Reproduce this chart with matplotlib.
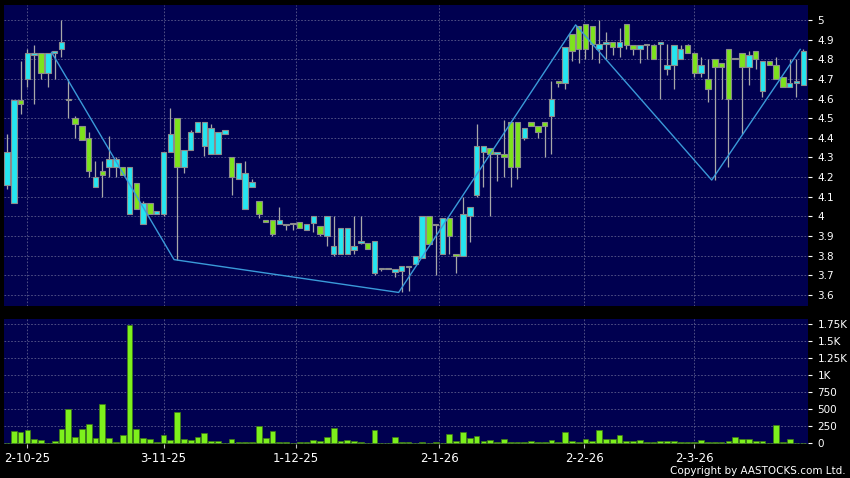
import matplotlib
matplotlib.use("Agg")
import matplotlib.pyplot as plt
import numpy as np

# daily OHLC, one entry per trading day (index 0..117)
opens = [4.16, 4.07, 4.59, 4.70, 4.82, 4.83, 4.73, 4.83, 4.85, 4.60,
         4.50, 4.46, 4.40, 4.15, 4.23, 4.25, 4.25, 4.25, 4.01, 4.17,
         3.96, 4.07, 4.01, 4.01, 4.33, 4.50, 4.25, 4.34, 4.43, 4.36,
         4.32, 4.32, 4.42, 4.30, 4.19, 4.04, 4.15, 4.08, 3.98, 3.98,
         3.96, 3.96, 3.96, 3.97, 3.93, 3.965, 3.95, 3.90, 3.81, 3.81,
         3.81, 3.83, 3.865, 3.865, 3.71, 3.73, 3.73, 3.715, 3.72, 3.74,
         3.76, 3.79, 4.00, 3.955, 3.81, 3.99, 3.81, 3.80, 4.00, 4.11,
         4.33, 4.35, 4.32, 4.32, 4.48, 4.48, 4.40, 4.48, 4.46, 4.48,
         4.51, 4.69, 4.68, 4.93, 4.97, 4.98, 4.97, 4.85, 4.88, 4.89,
         4.86, 4.98, 4.87, 4.85, 4.87, 4.87, 4.88, 4.75, 4.77, 4.80,
         4.87, 4.83, 4.73, 4.70, 4.80, 4.78, 4.85, 4.80, 4.83, 4.76,
         4.84, 4.64, 4.79, 4.77, 4.71, 4.66, 4.68, 4.67]
highs = [4.42, 4.59, 4.79, 4.85, 4.87, 4.83, 4.83, 4.84, 5.00, 4.70,
         4.51, 4.46, 4.43, 4.28, 4.28, 4.41, 4.30, 4.25, 4.25, 4.17,
         4.08, 4.07, 4.03, 4.33, 4.55, 4.50, 4.34, 4.44, 4.48, 4.48,
         4.47, 4.43, 4.44, 4.30, 4.27, 4.28, 4.19, 4.08, 3.98, 3.98,
         4.05, 3.96, 3.965, 3.97, 3.96, 4.00, 3.95, 4.00, 4.00, 3.94,
         3.94, 4.00, 4.00, 3.865, 3.875, 3.73, 3.73, 3.73, 3.75, 3.75,
         3.80, 4.00, 4.00, 3.96, 3.99, 3.99, 3.81, 4.10, 4.05, 4.47,
         4.36, 4.35, 4.32, 4.49, 4.48, 4.48, 4.45, 4.48, 4.46, 4.48,
         4.69, 4.69, 4.86, 4.93, 4.97, 4.98, 4.97, 5.00, 4.94, 4.89,
         4.96, 4.98, 4.87, 4.87, 4.87, 4.88, 4.88, 4.88, 4.87, 4.87,
         4.88, 4.83, 4.81, 4.80, 4.80, 4.78, 4.85, 4.80, 4.83, 4.84,
         4.84, 4.79, 4.79, 4.81, 4.71, 4.80, 4.80, 4.85]
lows = [4.14, 4.07, 4.52, 4.66, 4.57, 4.70, 4.66, 4.70, 4.81, 4.50,
        4.40, 4.39, 4.20, 4.15, 4.10, 4.20, 4.20, 4.21, 4.01, 4.04,
        3.96, 4.01, 4.01, 4.00, 4.33, 3.78, 4.22, 4.34, 4.43, 4.31,
        4.32, 4.32, 4.42, 4.11, 4.19, 4.04, 4.15, 3.99, 3.97, 3.90,
        3.96, 3.93, 3.93, 3.94, 3.93, 3.92, 3.90, 3.85, 3.80, 3.81,
        3.81, 3.81, 3.86, 3.835, 3.70, 3.72, 3.73, 3.69, 3.615, 3.62,
        3.76, 3.79, 3.86, 3.70, 3.81, 3.81, 3.71, 3.80, 3.87, 4.10,
        4.15, 4.00, 4.18, 4.20, 4.15, 4.19, 4.39, 4.46, 4.40, 4.30,
        4.32, 4.66, 4.65, 4.79, 4.78, 4.80, 4.80, 4.78, 4.80, 4.82,
        4.81, 4.85, 4.82, 4.78, 4.80, 4.80, 4.60, 4.72, 4.65, 4.80,
        4.83, 4.71, 4.71, 4.58, 4.185, 4.60, 4.25, 4.80, 4.42, 4.67,
        4.75, 4.61, 4.77, 4.70, 4.66, 4.66, 4.61, 4.67]
closes = [4.33, 4.59, 4.57, 4.83, 4.83, 4.73, 4.83, 4.84, 4.89, 4.59,
          4.47, 4.39, 4.23, 4.20, 4.21, 4.29, 4.29, 4.21, 4.25, 4.04,
          4.07, 4.01, 4.03, 4.33, 4.42, 4.25, 4.34, 4.43, 4.48, 4.48,
          4.45, 4.43, 4.44, 4.20, 4.27, 4.22, 4.175, 4.01, 3.97, 3.91,
          3.98, 3.955, 3.96, 3.94, 3.96, 4.00, 3.91, 4.00, 3.85, 3.94,
          3.94, 3.85, 3.865, 3.835, 3.875, 3.73, 3.73, 3.73, 3.75, 3.75,
          3.80, 4.00, 3.86, 3.96, 3.99, 3.90, 3.80, 4.01, 4.05, 4.36,
          4.36, 4.32, 4.32, 4.30, 4.25, 4.25, 4.45, 4.46, 4.43, 4.46,
          4.60, 4.68, 4.86, 4.84, 4.85, 4.85, 4.88, 4.88, 4.89, 4.86,
          4.89, 4.87, 4.85, 4.87, 4.87, 4.80, 4.88, 4.77, 4.87, 4.85,
          4.83, 4.73, 4.77, 4.65, 4.76, 4.76, 4.60, 4.80, 4.76, 4.82,
          4.80, 4.79, 4.77, 4.70, 4.66, 4.68, 4.68, 4.84]
volumes = [0, 176, 171, 191, 59, 49, 0, 34, 211, 500,
           93, 206, 279, 78, 573, 78, 25, 122, 1740, 216,
           78, 64, 25, 127, 49, 456, 64, 54, 93, 147,
           34, 29, 5, 64, 15, 15, 15, 255, 78, 181,
           20, 15, 0, 25, 15, 54, 39, 93, 225, 34,
           54, 34, 15, 0, 191, 3, 0, 88, 15, 15,
           0, 15, 0, 15, 0, 142, 34, 167, 78, 108,
           34, 49, 15, 59, 15, 15, 15, 34, 20, 20,
           44, 20, 162, 34, 20, 59, 34, 201, 64, 59,
           118, 34, 34, 49, 15, 15, 34, 34, 34, 15,
           15, 15, 49, 20, 20, 20, 34, 93, 69, 69,
           34, 34, 0, 265, 15, 69, 0, 5]

# zigzag turning points (day index, price)
zz_idx = [7, 25, 58, 84, 104, 117]
zz_price = [4.835, 3.78, 3.613, 4.975, 4.185, 4.85]

date_pos = [3, 23, 42.4, 63.5, 84.8, 101]
date_labels = ["2-10-25", "3-11-25", "1-12-25", "2-1-26", "2-2-26", "2-3-26"]

price_ticks = [3.6, 3.7, 3.8, 3.9, 4.0, 4.1, 4.2, 4.3, 4.4, 4.5, 4.6, 4.7, 4.8, 4.9, 5.0]
vol_ticks = [0, 250, 500, 750, 1000, 1250, 1500, 1750]
vol_labels = ["0", "250", "500", "750", "1K", "1.25K", "1.5K", "1.75K"]

NAVY = "#000050"
CYAN = "#25E6F0"
GREEN = "#7DE31C"
GRID = "#5c5c8c"

o = np.array(opens)
h = np.array(highs)
l = np.array(lows)
c = np.array(closes)
x = np.arange(len(o))

fig = plt.figure(figsize=(8.5, 4.78), dpi=100, facecolor="black")
W, H = 850, 478
ax = fig.add_axes([4 / W, 1 - 306 / H, 803.7 / W, 301 / H])
axv = fig.add_axes([4 / W, 1 - 444 / H, 803.7 / W, 125 / H], sharex=ax)

for a in (ax, axv):
    a.set_facecolor(NAVY)
    for s in a.spines.values():
        s.set_visible(False)
    a.grid(True, color=GRID, linestyle=(0, (2, 2)), linewidth=0.6)
    a.set_axisbelow(True)
    a.yaxis.tick_right()
    a.tick_params(axis="y", colors="white", labelcolor="white", length=3,
                  width=0.8, pad=4, labelsize=7.5)

# candles
up = c >= o
colors = np.where(up, CYAN, GREEN)
bottom = np.minimum(o, c)
height = np.maximum(np.abs(c - o), 0.008)
ax.vlines(x, l, h, color="#a8a8a8", linewidth=0.9, zorder=2)
ax.bar(x, height, bottom=bottom, width=0.8, color=colors,
       edgecolor="#8c8c8c", linewidth=0.8, zorder=3)

# zigzag overlay
ax.plot(np.array(zz_idx) - 0.45, zz_price, color="#3a9ad9", linewidth=1.0, zorder=4)

ax.set_xlim(-0.44, 117.65)
ax.set_ylim(3.544, 5.076)
ax.set_yticks(price_ticks)
ax.set_yticklabels([f"{v:g}" for v in price_ticks])
ax.tick_params(axis="x", length=0, labelbottom=False)

# volume
axv.bar(x, volumes, width=0.85, color="#7DF01C", edgecolor="#3f7a14", linewidth=0.5, zorder=3)
axv.set_ylim(-10, 1828)
axv.set_yticks(vol_ticks)
axv.set_yticklabels(vol_labels)
axv.set_xticks(date_pos)
axv.set_xticklabels(date_labels)
axv.tick_params(axis="x", colors="#c0c0c0", labelcolor="white", length=3,
                width=0.8, pad=3, labelsize=8.5)

fig.text(845.7 / W, 1 - 471 / H, "Copyright by AASTOCKS.com Ltd.",
         ha="right", va="center", color="white", fontsize=7.5)

fig.savefig("out.png", dpi=100, facecolor="black")
